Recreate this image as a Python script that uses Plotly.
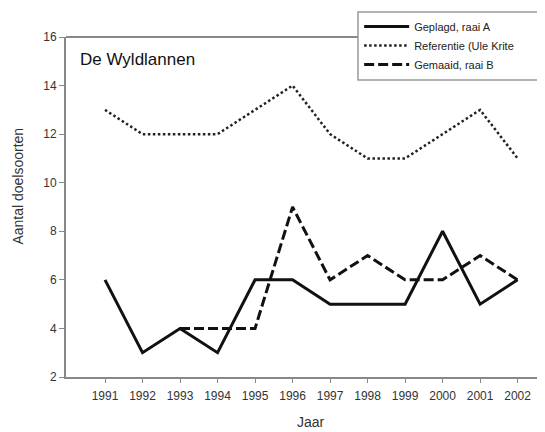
import plotly.graph_objects as go

years = [1991, 1992, 1993, 1994, 1995, 1996, 1997, 1998, 1999, 2000, 2001, 2002]
geplagd = [6, 3, 4, 3, 6, 6, 5, 5, 5, 8, 5, 6]
referentie = [13, 12, 12, 12, 13, 14, 12, 11, 11, 12, 13, 11]
gemaaid_years = [1993, 1994, 1995, 1996, 1997, 1998, 1999, 2000, 2001, 2002]
gemaaid = [4, 4, 4, 9, 6, 7, 6, 6, 7, 6]
y_ticks = [2, 4, 6, 8, 10, 12, 14, 16]

fig = go.Figure()
fig.add_trace(go.Scatter(x=years, y=geplagd, mode="lines", name="Geplagd, raai A",
                         line=dict(color="#111111", width=3)))
fig.add_trace(go.Scatter(x=years, y=referentie, mode="lines", name="Referentie (Ule Krite",
                         line=dict(color="#222222", width=2.5, dash="2.5px,2.5px")))
fig.add_trace(go.Scatter(x=gemaaid_years, y=gemaaid, mode="lines", name="Gemaaid, raai B",
                         line=dict(color="#111111", width=3, dash="10px,4px")))

# page body has an 8px margin; compensate so the plot lands where the reference has it
fig.update_layout(
    width=537, height=424,
    margin=dict(l=58, r=0, t=29, b=55, autoexpand=False),
    paper_bgcolor="white", plot_bgcolor="white",
    font=dict(family="Liberation Sans, Arial, sans-serif", color="#333333", size=11),
    showlegend=True,
    legend=dict(x=0.612, y=0.975, xanchor="left", yanchor="middle",
                bgcolor="rgba(0,0,0,0)", borderwidth=0,
                font=dict(size=11, color="#222222"),
                tracegroupgap=0, itemwidth=45),
    xaxis=dict(range=[1989.96, 2002.73], tickvals=years, ticktext=[str(y) for y in years],
               showgrid=False, zeroline=False, showline=True, linecolor="#888888", linewidth=2,
               ticks="outside", ticklen=4, tickcolor="#888888", tickwidth=1,
               ticklabelstandoff=3,
               tickfont=dict(size=12, color="#333333")),
    yaxis=dict(range=[2, 16], tickvals=y_ticks,
               showgrid=False, zeroline=False, showline=True, linecolor="#888888", linewidth=2,
               ticks="outside", ticklen=5, tickcolor="#888888", tickwidth=1,
               tickfont=dict(size=12, color="#333333")),
)
# top frame line
fig.add_shape(type="line", xref="paper", yref="paper", x0=0, x1=1, y0=1, y1=1,
              line=dict(color="#888888", width=2), layer="below")
# legend box (extends past the right edge as in the reference)
fig.add_shape(type="rect", xref="paper", yref="paper", x0=0.6096, x1=1.05, y0=0.8735, y1=1.0735,
              line=dict(color="#999999", width=1.5), fillcolor="white", layer="above")
fig.add_annotation(text="De Wyldlannen", xref="paper", yref="paper", x=0.025, y=0.935,
                   xanchor="left", yanchor="middle", showarrow=False,
                   font=dict(size=17, color="#111111"))
fig.add_annotation(text="Aantal doelsoorten", xref="paper", yref="paper",
                   x=-0.1002, y=0.56, textangle=-90, xanchor="center", yanchor="middle",
                   showarrow=False, font=dict(size=14, color="#333333"))
fig.add_annotation(text="Jaar", xref="paper", yref="paper",
                   x=0.511, y=-0.133, xanchor="center", yanchor="middle",
                   showarrow=False, font=dict(size=14, color="#333333"))

fig.write_html("out.html")
